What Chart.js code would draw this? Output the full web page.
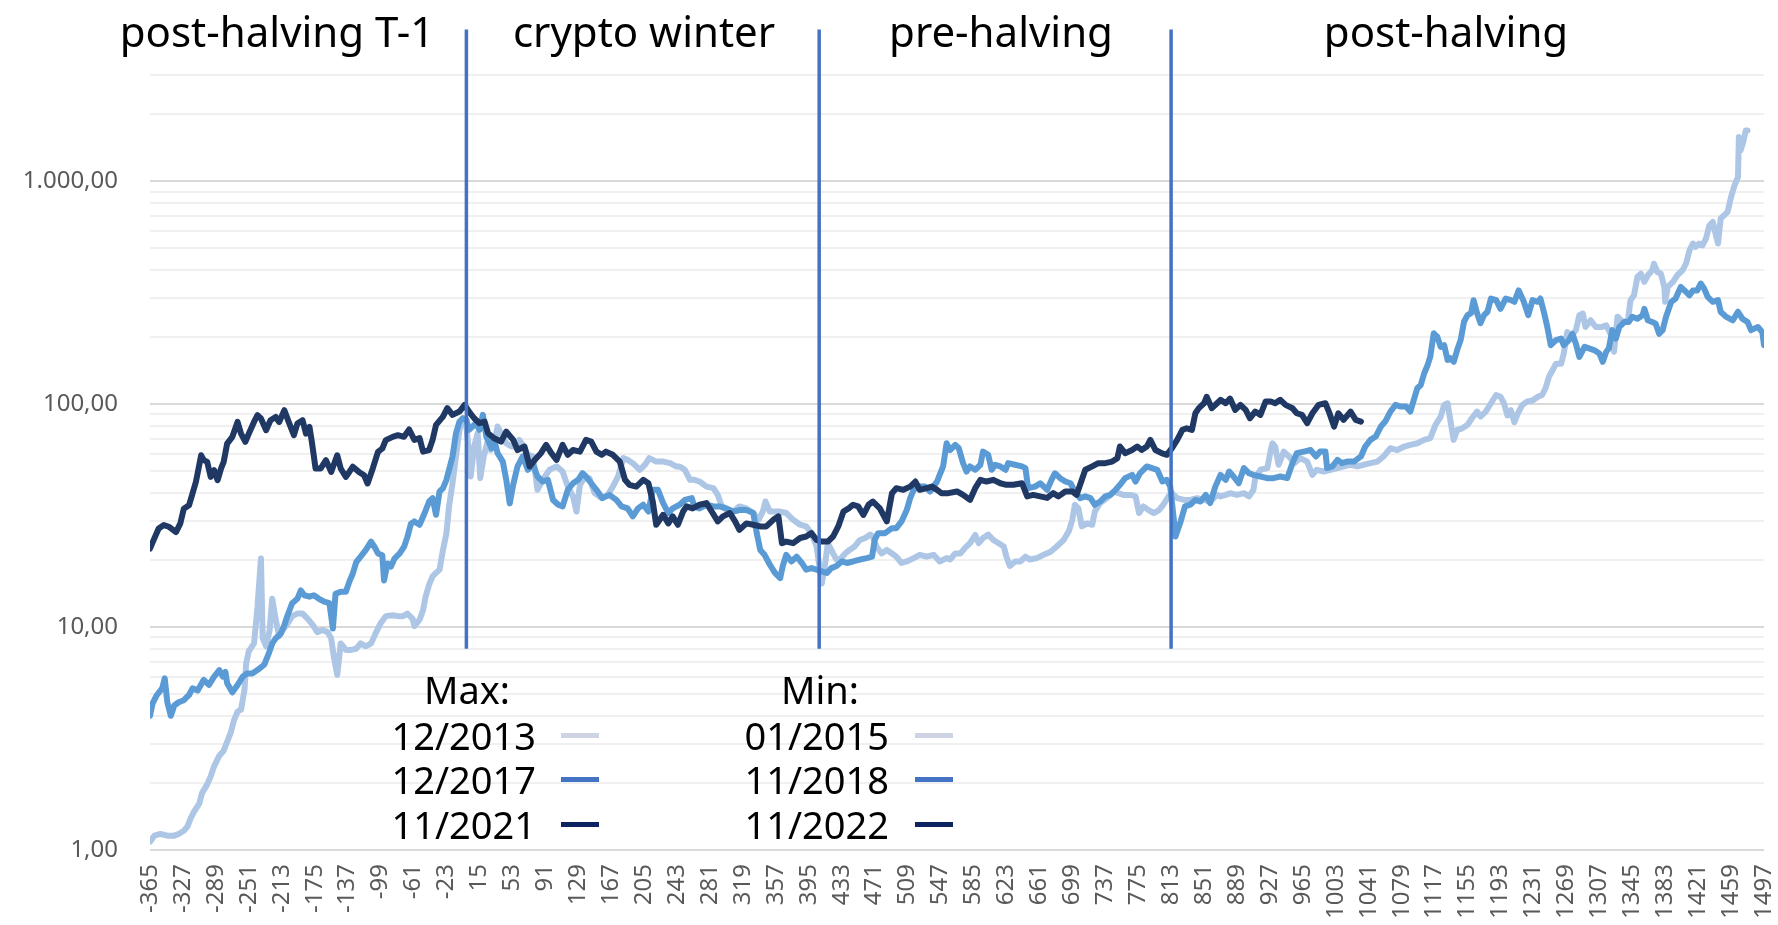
<!DOCTYPE html>
<html lang="de">
<head>
  <meta charset="UTF-8">
  <title>Bitcoin-Zyklen im Vergleich</title>
  <script src="https://cdn.jsdelivr.net/npm/chart.js"></script>
  <style>
    body { margin: 0; background: #fff; font-family: "Noto Sans", sans-serif; }
    #wrap { position: relative; width: 1778px; height: 925px; }
    #chart { position: absolute; left: 0; top: 0; }
    .phase { position: absolute; top: 4px; font-size: 42px; line-height: 54px; color: #000; white-space: nowrap; transform: translateX(-50%); }
    .leg { position: absolute; font-size: 38px; line-height: 46px; color: #000; white-space: nowrap; }
    .leg.head { transform: translateX(-50%); }
    .leg.row { transform: translateX(-100%); }
    .swatch { position: absolute; width: 38px; height: 5px; }
  </style>
</head>
<body>
  <div id="wrap">
    <canvas id="chart" width="1778" height="925"></canvas>
  </div>

  <script>
    // Tag relativ zum Halving, Index (Tief = 100)
    const max2021 = [[-365,22.5],[-360,25.0],[-355,27.7],[-349,28.7],[-343,28.2],[-335,26.7],[-330,29.2],[-326,34.0],[-320,35.2],[-316,39.7],[-312,44.9],[-306,59.0],[-303,56.1],[-299,55.1],[-295,47.2],[-291,50.6],[-287,45.6],[-283,51.5],[-280,55.1],[-276,66.6],[-270,71.4],[-264,83.3],[-260,73.8],[-255,67.8],[-251,73.8],[-245,83.3],[-241,89.3],[-237,86.3],[-231,76.5],[-226,84.8],[-220,87.7],[-216,83.3],[-210,94.0],[-205,83.3],[-199,72.6],[-195,81.9],[-189,84.8],[-185,73.8],[-181,79.1],[-178,66.6],[-174,51.5],[-168,51.5],[-162,56.1],[-156,49.7],[-149,59.0],[-145,51.5],[-139,47.2],[-131,52.4],[-124,49.7],[-118,48.0],[-114,44.1],[-108,51.5],[-102,61.1],[-97,63.3],[-93,69.0],[-85,71.4],[-79,72.6],[-72,71.4],[-66,77.0],
      [-60,69.2],[-54,70.4],[-50,61.3],[-43,62.3],[-39,69.2],[-35,80.8],[-27,88.0],[-22,96],[-16,89.6],[-8,92.7],[-2,99.3],[3,92.7],[9,86.5],[15,82.2],[21,83.6],[25,74.1],[32,70.4],[40,68.0],[46,75.4],[54,69.2],[59,62.3],[67,64.6],[73,52.6],[79,56.3],[86,60.3],[92,65.7],[98,60.3],[104,56.3],[111,65.7],[117,59.3],[123,62.3],[131,61.3],[138,69.2],[144,68.0],[150,61.3],[156,59.3],[161,61.3],[169,59.3],[177,55.3],[183,45.8],[188,43.5],[196,42.7],[204,45.8],[210,44.2],[215,36.6],[219,28.8],[227,31.9],[233,29.2],[238,31.4],[244,28.8],[250,33.0],
      [254,34.8],[261,34.1],[269,35.4],[277,36.0],[283,33.0],[290,29.8],[296,31.4],[304,32.5],[310,29.8],[315,27.3],[323,29.2],[331,28.8],[339,28.3],[346,28.3],[354,30.3],[360,31.4],[364,23.8],[369,24.2],[377,23.8],[385,25.1],[392,25.5],[398,26.4],[404,24.6],[410,24.2],[417,24.2],[423,25.5],[429,28.3],[435,33.0],[441,34.1],[446,35.4],[452,34.8],[458,31.9],[464,35.4],[469,36.6],[477,34.1],[485,29.8],[491,39.9],[496,42.0],[504,41.3],[512,42.7],[518,45.0],[523,41.3],[531,42.0],[537,42.7],[543,41.3],[548,39.9],[556,39.9],
      [566,40.6],[573,39.2],[581,37.2],[587,42.0],[593,45.8],[600,45.0],[608,45.8],[616,44.2],[623,43.5],[631,43.5],[641,44.2],[647,38.6],[654,39.2],[662,38.6],[670,38.0],[677,39.9],[683,38.6],[691,40.6],[699,40.6],[704,39.2],[710,45.8],[714,50.8],[722,52.6],[729,54.4],[737,54.4],[745,55.3],[751,57.3],[754,64.6],[760,60.3],[768,62.3],[774,64.6],[779,62.3],[785,64.6],[789,69.2],[795,62.3],[802,60.3],[808,59.3],[814,63.5],[820,69.2],[826,76.7],[831,78.0],[837,76.7],[841,91.1],[845,96.0],[851,101],[854,108],[860,96],[866,101],
      [870,104.6],[876,101],[881,106],[887,94.3],[893,99.3],[899,94.3],[904,86.5],[910,92.7],[916,89.6],[922,102.8],[928,102.8],[933,101],[939,104.6],[945,99.3],[953,96],[958,91.1],[964,89.6],[970,82.2],[976,91.1],[983,99.3],[991,101],[995,92.7],[1001,79.4],[1006,91.1],[1012,85.1],[1020,92.7],[1026,85.1],[1032,83.6]];

    const max2017 = [[-365,4.0],[-362,4.55],[-357,4.96],[-351,5.31],[-348,5.89],[-345,4.6],[-341,4.0],[-337,4.45],[-332,4.6],[-326,4.7],[-320,4.96],[-316,5.31],[-310,5.2],[-303,5.8],[-297,5.5],[-291,5.99],[-285,6.41],[-281,5.99],[-278,6.3],[-276,5.6],[-270,5.1],[-264,5.5],[-258,5.99],[-253,6.2],[-247,6.2],[-239,6.5],[-233,6.8],[-228,7.62],[-224,8.45],[-220,8.9],[-214,9.37],[-210,10.2],[-207,11.1],[-201,12.8],[-195,13.4],[-191,14.6],[-187,13.9],[-181,13.7],[-176,13.9],[-170,13.4],[-164,13.0],[-158,12.8],[-154,9.86],[-151,14.1],[-145,14.4],[-139,14.4],[-135,16.0],[-131,17.4],[-127,19.6],[-122,20.7],[-116,22.2],[-110,24.2],[-106,22.9],[-102,21.4],[-97,21.0],[-95,16.2],[-91,19.3],[-87,18.7],[-83,20.3],[-77,21.4],[-72,22.9],[-68,25.4],[-64,29.1],
      [-60,29.8],[-54,28.8],[-49,31.9],[-43,36.6],[-39,37.9],[-35,31.9],[-31,40.6],[-27,42.0],[-23,45.8],[-20,50.8],[-16,58.3],[-12,74.1],[-8,83.6],[-4,86.5],[0,85.1],[3,76.7],[7,79.4],[11,82.2],[15,76.7],[19,89.6],[23,71.6],[29,63.5],[32,69.2],[36,60.3],[42,55.3],[46,45.8],[50,35.9],[54,43.5],[59,52.6],[65,58.3],[71,50.8],[77,53.5],[82,47.4],[88,45.0],[94,45.8],[100,37.2],[106,35.4],[111,34.8],[117,41.3],[123,44.2],[129,45.8],[134,49.0],[138,47.4],[144,44.2],[150,41.3],[157,37.9],[165,39.2],[173,37.2],[179,34.8],[186,34.1],[192,31.4],[198,34.1],[204,35.4],[210,33.0],[215,41.3],[221,41.3],[227,36.0],[233,32.5],[238,34.1],[246,35.4],[252,37.2],
      [260,37.9],[263,34.8],[269,34.1],[277,35.4],[285,34.8],[292,34.8],[300,34.1],[308,33.0],[315,33.5],[323,33.5],[331,32.5],[335,26.4],[339,22.2],[344,21.1],[350,19.1],[356,17.5],[362,16.6],[365,18.8],[369,21.1],[375,19.7],[381,20.7],[387,19.4],[392,18.1],[398,18.4],[404,18.1],[410,17.8],[416,17.5],[421,18.4],[427,18.8],[433,19.7],[439,19.4],[446,19.7],[454,20.1],[462,20.4],[468,20.7],[471,24.6],[475,26.4],[483,26.4],[491,27.8],[496,27.8],[502,29.8],[508,33.5],[512,37.9],[516,41.3],[521,42.7],[529,42.7],[535,40.6],[543,45.0],[546,48.2],[550,52.6],[554,66.8],[558,62.3],[564,65.7],
      [568,63.5],[573,54.4],[577,49.9],[581,52.6],[587,50.8],[593,53.5],[596,61.3],[602,59.3],[606,50.8],[610,53.5],[616,52.6],[622,50.8],[625,54.4],[633,53.5],[641,52.6],[645,51.7],[648,42.0],[656,42.7],[662,44.2],[670,41.3],[675,45.8],[679,49.0],[685,46.6],[691,45.0],[697,44.2],[702,40.6],[708,37.9],[714,38.6],[720,37.9],[725,35.4],[731,36.6],[737,38.6],[743,39.2],[749,41.3],[754,43.5],[760,46.6],[768,48.2],[772,45.0],[777,49.0],[785,52.6],[791,51.7],[797,50.8],[803,45.0],[808,45.8],[812,42.7],[816,30.8],[818,25.5],[824,29.8],[829,34.8],[835,35.4],[841,37.2],[847,36.6],[853,39.2],[858,36.0],[864,42.7],
      [870,48.2],[876,45.8],[880,49.9],[885,47.4],[891,44.2],[897,51.7],[903,49.0],[908,48.2],[916,47.4],[924,46.6],[931,46.6],[939,47.4],[947,46.6],[953,54.4],[958,60.3],[966,61.3],[974,62.3],[980,58.3],[985,61.3],[991,61.3],[993,51.7],[999,52.6],[1005,56.3],[1010,54.4],[1016,55.3],[1024,55.3],[1032,58.3],[1037,64.6],[1043,69.2],[1049,71.6],[1055,79.4],[1060,83.6],[1066,92.7],[1072,99.3],[1078,97.6],[1084,97.6],[1089,92.7],[1093,104.6],[1097,117.9],[1101,122],[1105,137.7],[1109,150],[1112,163.6],[1116,208],[1120,201],[1124,181],[1128,184],[1132,158],[1135,161],[1139,155],[1143,175],[1147,194],[1151,235],[1155,251],[1159,256],[1162,293],[1166,256],[1170,231],[1174,251],[1178,260],
      [1182,298],[1188,293],[1193,268],[1199,298],[1205,293],[1209,288],[1214,324],[1220,288],[1225,251],[1230,293],[1236,288],[1239,298],[1243,260],[1247,222],[1251,184],[1257,194],[1263,197],[1266,184],[1272,194],[1276,207],[1280,187],[1284,163],[1290,181],[1295,178],[1301,175],[1307,169],[1311,155],[1315,172],[1318,178],[1322,215],[1326,197],[1330,222],[1336,234],[1341,234],[1345,247],[1351,242],[1357,251],[1359,268],[1363,238],[1368,234],[1372,230],[1376,207],[1380,215],[1384,247],[1390,288],[1395,298],[1401,336],[1407,319],[1411,308],[1415,324],[1420,324],[1424,348],[1428,330],[1432,303],[1438,288],[1444,293],[1447,260],[1453,247],[1461,238],[1467,260],[1472,242],[1478,234],[1482,215],[1490,222],[1495,211],[1497,184]];

    const max2013 = [[-365,1.09],[-360,1.16],[-353,1.18],[-345,1.16],[-337,1.16],[-332,1.18],[-326,1.22],[-322,1.27],[-318,1.39],[-314,1.49],[-308,1.62],[-305,1.80],[-299,1.97],[-295,2.14],[-291,2.38],[-285,2.65],[-280,2.79],[-276,3.06],[-272,3.35],[-268,3.83],[-264,4.18],[-260,4.26],[-256,5.24],[-254,6.9],[-251,7.8],[-245,8.45],[-241,12.3],[-237,20.3],[-235,8.9],[-231,8.2],[-227,9.7],[-224,13.4],[-220,10.8],[-216,9.1],[-212,9.7],[-206,10.4],[-201,11.2],[-195,11.5],[-189,11.5],[-183,10.9],[-177,10.2],[-172,9.5],[-166,9.7],[-160,9.5],[-156,8.9],[-153,7.4],[-149,6.1],[-145,8.45],[-139,7.9],[-133,7.9],[-127,8.0],[-122,8.45],[-116,8.2],[-110,8.45],[-104,9.5],[-99,10.4],[-93,11.2],[-85,11.3],[-79,11.2],[-73,11.2],[-68,11.5],[-62,10.9],
      [-60,10.1],[-54,10.8],[-50,11.9],[-47,13.7],[-43,15.5],[-39,16.9],[-35,17.5],[-31,18.1],[-27,22.2],[-23,26.4],[-20,34.8],[-16,44.2],[-12,58.3],[-8,76.7],[-4,86.5],[0,79.4],[3,60.3],[5,47.4],[9,64.6],[13,74.1],[16,46.6],[20,58.3],[25,69.2],[28,62.3],[32,66.8],[36,79.4],[40,74.1],[46,66.8],[52,64.6],[57,64.6],[61,69.2],[65,65.7],[71,59.3],[77,58.3],[82,41.3],[88,45.8],[96,50.8],[104,52.6],[111,49.9],[117,42.7],[123,38.6],[127,33.0],[131,43.5],[136,46.6],[142,46.6],[148,39.9],[156,37.9],[163,39.2],[169,42.7],[175,47.4],[181,57.3],[186,56.3],[192,54.4],[200,50.8],[206,53.5],[211,57.3],[219,55.3],[227,55.3],[235,54.4],[242,52.6],
      [246,52.6],[252,50.8],[258,45.8],[263,45.8],[269,45.0],[277,42.7],[285,42.0],[290,39.2],[294,35.4],[300,33.5],[308,33.0],[315,34.8],[323,34.1],[331,32.5],[337,30.3],[342,33.0],[345,36.6],[350,33.0],[356,33.0],[362,33.0],[369,32.5],[377,30.3],[385,28.8],[392,28.3],[398,26.4],[404,23.0],[410,15.7],[414,19.4],[417,23.8],[423,21.4],[427,20.1],[431,20.1],[437,21.4],[442,22.2],[448,23.0],[454,24.6],[460,25.1],[466,26.0],[469,25.5],[473,23.0],[479,21.4],[485,22.2],[491,21.4],[496,20.7],[502,19.4],[508,19.7],[516,20.4],[523,21.1],[531,20.7],[539,21.1],[546,19.7],[554,20.4],
      [558,20.1],[564,21.4],[570,21.4],[575,22.6],[581,23.8],[587,25.9],[591,23.8],[596,25.1],[602,26.0],[608,24.6],[614,23.8],[620,23.0],[623,20.7],[627,18.8],[633,19.7],[639,19.7],[645,20.7],[650,20.1],[658,20.4],[666,21.1],[674,21.8],[681,23.0],[689,24.6],[695,26.9],[699,30.3],[702,35.4],[706,34.1],[710,28.3],[716,29.2],[722,28.8],[725,33.0],[731,36.0],[739,37.9],[747,40.6],[752,39.9],[758,39.2],[766,39.2],[772,38.6],[776,32.5],[781,34.8],[787,33.5],[793,32.5],[799,33.5],[804,35.4],[810,38.6],[814,39.9],[820,37.9],[828,37.2],[835,37.2],[843,37.9],[851,37.2],[858,36.6],[866,39.2],
      [870,38.6],[876,39.2],[881,39.9],[889,39.2],[897,39.9],[903,38.6],[908,41.3],[910,46.6],[916,50.8],[924,51.7],[928,62.3],[930,66.8],[933,64.6],[937,53.5],[943,61.3],[949,58.3],[955,54.4],[962,57.3],[970,55.3],[976,48.2],[981,50.8],[989,49.9],[997,50.8],[1005,51.7],[1012,52.6],[1020,53.5],[1028,52.6],[1035,53.5],[1043,54.4],[1051,55.3],[1058,58.3],[1066,63.5],[1074,62.3],[1082,64.6],[1089,65.7],[1097,66.8],[1105,69.2],[1112,70.4],[1118,80.8],[1124,88.0],[1128,99.3],[1132,101],[1136,80.8],[1139,69.2],[1143,76.7],[1149,78.0],[1155,80.8],[1160,86.5],[1166,92.7],[1170,88.0],[1176,92.7],
      [1182,101],[1188,110],[1193,108],[1197,101],[1201,89],[1205,94],[1209,83],[1213,91],[1218,99],[1224,103],[1230,104],[1236,108],[1241,110],[1245,118],[1249,133],[1253,142],[1257,152],[1263,152],[1266,169],[1270,211],[1274,201],[1280,215],[1284,251],[1288,255],[1291,222],[1297,238],[1303,222],[1309,222],[1315,226],[1320,207],[1324,172],[1328,247],[1334,234],[1340,238],[1343,293],[1347,308],[1351,373],[1355,385],[1359,354],[1363,379],[1368,399],[1370,427],[1374,392],[1378,385],[1382,336],[1383,288],[1386,336],[1392,354],[1397,379],[1403,399],[1407,427],[1411,490],[1415,526],[1418,508],[1422,526],[1426,516],[1430,553],[1434,635],[1438,657],[1442,563],[1444,526],[1447,681],[1451,704],[1455,729],[1459,851],[1463,959],[1467,1046],[1468,1580],[1470,1377],[1473,1500],[1476,1693],[1478,1693]];

    const xTickLabels = [-365,-327,-289,-251,-213,-175,-137,-99,-61,-23,15,53,91,129,167,205,243,281,319,357,395,433,471,509,547,585,623,661,699,737,775,813,851,889,927,965,1003,1041,1079,1117,1155,1193,1231,1269,1307,1345,1383,1421,1459,1497];
    const yMajorTicks = [1, 10, 100, 1000];
    const yTickLabels = ['1,00', '10,00', '100,00', '1.000,00'];
    const yMax = 3000;

    const phaseDays = [0, 407, 813];
    const phaseLabels = ['post-halving T-1', 'crypto winter', 'pre-halving', 'post-halving'];
    const legendMax = ['12/2013', '12/2017', '11/2021'];
    const legendMin = ['01/2015', '11/2018', '11/2022'];
    const legendColors = ['#cdd3e3', '#4472c4', '#0e2361'];

    // Gitterlinien 1..9 je Dekade
    const yGrid = [];
    yMajorTicks.forEach(d => { for (let m = 1; m <= 9; m++) if (m * d <= yMax) yGrid.push(m * d); });

    const toXY = arr => arr.map(p => ({ x: p[0], y: p[1] }));
    const line = (data, color) => ({
      data: toXY(data), borderColor: color, borderWidth: 6, pointRadius: 0,
      tension: 0, borderJoinStyle: 'round', borderCapStyle: 'round', fill: false
    });

    const phaseLines = {
      id: 'phaseLines',
      afterDatasetsDraw(chart) {
        const { ctx, scales: { x, y } } = chart;
        ctx.save();
        ctx.strokeStyle = '#4472c4';
        ctx.lineWidth = 3.5;
        phaseDays.forEach(d => {
          const px = x.getPixelForValue(d);
          ctx.beginPath();
          ctx.moveTo(px, y.getPixelForValue(4800));
          ctx.lineTo(px, y.getPixelForValue(8));
          ctx.stroke();
        });
        ctx.restore();
      }
    };

    const tickFont = { family: 'Noto Sans', size: 24 };

    const chart = new Chart(document.getElementById('chart'), {
      type: 'line',
      data: {
        datasets: [
          line(max2021, '#1f3864'),
          line(max2017, '#5b9bd5'),
          line(max2013, '#adc6e6')
        ]
      },
      options: {
        responsive: false,
        animation: false,
        devicePixelRatio: 1,
        layout: { padding: { top: 75, right: 14, bottom: 0, left: 0 } },
        plugins: { legend: { display: false }, tooltip: { enabled: false } },
        scales: {
          x: {
            type: 'linear', min: -365, max: 1497,
            grid: { display: false, drawTicks: false },
            border: { display: false },
            afterBuildTicks: s => { s.ticks = xTickLabels.map(v => ({ value: v })); },
            afterFit: s => { s.height = 75; s.paddingLeft = 0; s.paddingRight = 0; },
            ticks: {
              autoSkip: false, minRotation: 90, maxRotation: 90, padding: 14,
              color: '#595959', font: tickFont,
              callback: v => String(v)
            }
          },
          y: {
            type: 'logarithmic', min: 1, max: yMax,
            border: { display: false },
            grid: {
              drawTicks: false, lineWidth: 2,
              color: c => yMajorTicks.includes(c.tick.value) ? '#d9d9d9' : '#f0f0f0'
            },
            afterBuildTicks: s => { s.ticks = yGrid.map(v => ({ value: v })); },
            afterFit: s => { s.width = 150; },
            ticks: {
              autoSkip: false, padding: 32, color: '#595959', font: tickFont,
              callback: v => { const i = yMajorTicks.indexOf(v); return i >= 0 ? yTickLabels[i] : ''; }
            }
          }
        }
      },
      plugins: [phaseLines]
    });

    // Phasen-Überschriften und Legende
    const wrap = document.getElementById('wrap');
    const add = (cls, text, left, top) => {
      const el = document.createElement('div');
      el.className = cls;
      el.textContent = text;
      el.style.left = left + 'px';
      el.style.top = top + 'px';
      wrap.appendChild(el);
      return el;
    };
    const phaseCenters = [277, 644, 1001, 1446];
    phaseLabels.forEach((t, i) => add('phase', t, phaseCenters[i], 4));

    const legCols = [
      { head: 'Max:', items: legendMax, center: 467, right: 536, sw: 561 },
      { head: 'Min:', items: legendMin, center: 820, right: 889, sw: 915 }
    ];
    const rowY = [689, 735, 779, 824];
    legCols.forEach(col => {
      add('leg head', col.head, col.center, rowY[0] - 23);
      col.items.forEach((t, i) => {
        add('leg row', t, col.right, rowY[i + 1] - 23);
        const sw = document.createElement('div');
        sw.className = 'swatch';
        sw.style.left = col.sw + 'px';
        sw.style.top = (rowY[i + 1] - 2) + 'px';
        sw.style.background = legendColors[i];
        wrap.appendChild(sw);
      });
    });
  </script>
</body>
</html>
